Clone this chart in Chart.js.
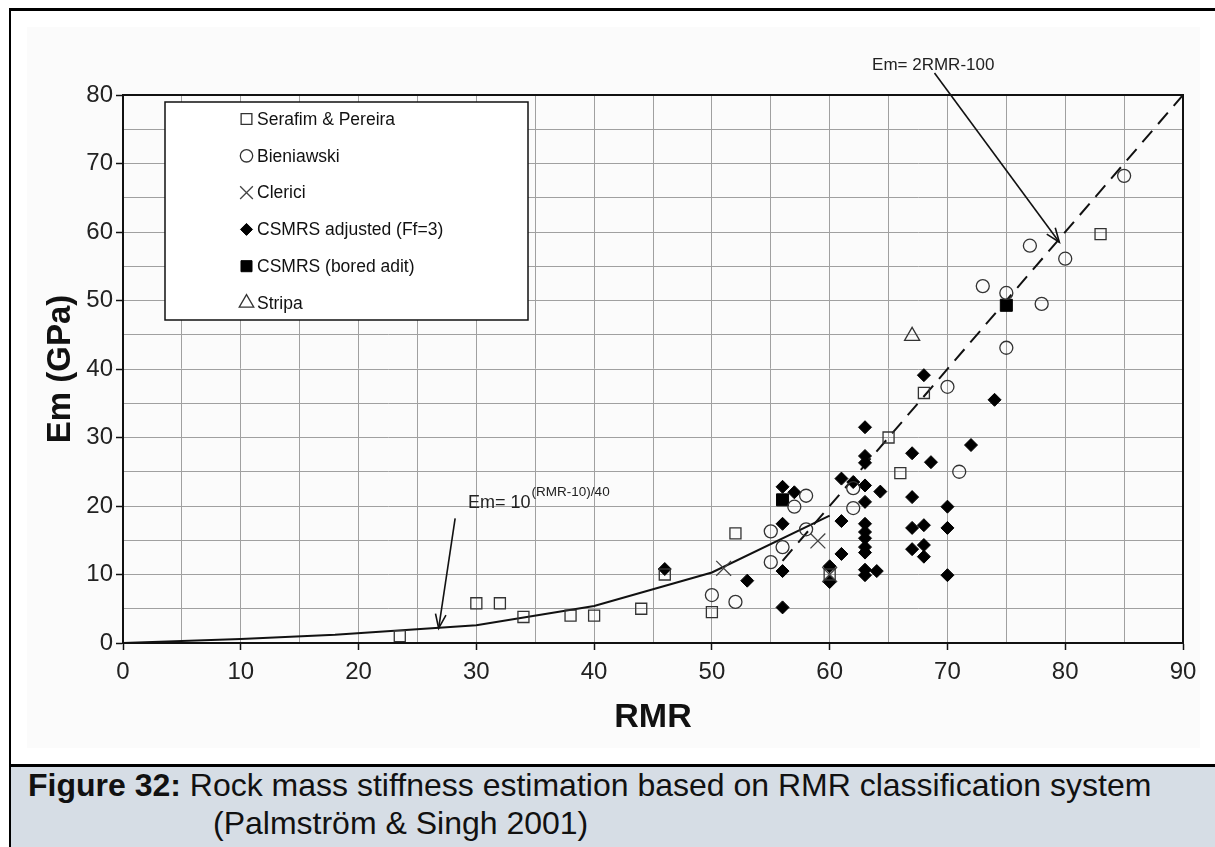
<!DOCTYPE html>
<html>
<head>
<meta charset="utf-8">
<script src="https://cdn.jsdelivr.net/npm/chart.js@4.4.1/dist/chart.umd.min.js"></script>
<style>
  body { margin: 0; width: 1215px; height: 847px; position: relative; overflow: hidden; background: #fff;
         font-family: "Liberation Sans", Arial, sans-serif; }
  #frame { position: absolute; left: 9px; top: 8px; right: 0; height: 753px; border-left: 2px solid #000; border-top: 3px solid #000; }
  #inner { position: absolute; left: 27px; top: 27px; width: 1173px; height: 721px; background: #fbfbfb; }
  #chart { position: absolute; left: 0; top: 0; }
  #caption { position: absolute; left: 9px; top: 764px; right: 0; bottom: 0; background: #d6dde5;
             border-left: 2px solid #000; border-top: 3px solid #000; }
  .cap { position: absolute; font-size: 32px; line-height: 40px; color: #111; white-space: nowrap; }
</style>
</head>
<body>
<div id="frame"></div>
<div id="inner"></div>
<canvas id="chart" width="1215" height="760"></canvas>
<div id="caption"></div>
<div class="cap" style="left:28px; top:765px;"><b>Figure 32:</b> Rock mass stiffness estimation based on RMR classification system</div>
<div class="cap" style="left:213px; top:803px;">(Palmström &amp; Singh 2001)</div>

<script>
// values (x = RMR, y = Em in GPa)
const serafimX = [23.5, 30, 32, 34, 38, 40, 44, 46, 50, 52, 60, 65, 66, 68, 83];
const serafimY = [1.0, 5.8, 5.8, 3.8, 4.0, 4.0, 5.0, 10.0, 4.5, 16.0, 10.0, 30.0, 24.8, 36.5, 59.7];

const bieniawskiX = [50, 52, 55, 55, 56, 57, 58, 58, 62, 62, 70, 71, 73, 75, 75, 77, 78, 80, 85];
const bieniawskiY = [7.0, 6.0, 16.3, 11.8, 14.0, 19.9, 21.5, 16.6, 22.6, 19.7, 37.4, 25.0, 52.1, 51.1, 43.1, 58.0, 49.5, 56.1, 68.2];

const clericiX = [51, 59, 60];
const clericiY = [10.9, 14.9, 10.0];

const csmrsX = [46, 53, 56, 57, 56, 56, 56, 60, 60, 61, 62, 63, 63, 61, 61, 63, 63, 63, 63, 63, 63, 63, 63, 63, 63,
                64, 64.3, 68, 67, 68.6, 67, 67, 68, 68, 67, 68, 70, 70, 70, 72, 74];
const csmrsY = [10.8, 9.1, 22.8, 22.0, 17.4, 10.5, 5.2, 11.2, 8.9, 24.0, 23.5, 23.0, 20.6, 17.8, 13.0, 31.5, 27.3, 26.3,
                17.4, 16.2, 15.3, 14.0, 13.2, 10.7, 9.9, 10.5, 22.1, 39.1, 27.7, 26.4, 21.3, 16.8, 17.2, 14.3, 13.7, 12.6,
                19.9, 16.8, 9.9, 28.9, 35.5];

const boredX = [56, 75];
const boredY = [20.9, 49.3];

const stripaX = [67];
const stripaY = [44.8];

// the two fitted curves as drawn in the figure
const powerCurveX = [0, 10, 18, 30, 40, 50, 60];
const powerCurveY = [0, 0.6, 1.2, 2.6, 5.4, 10.3, 18.6];
const linearX = [56, 90];
const linearY = [12, 80];

const xTicks = [0, 10, 20, 30, 40, 50, 60, 70, 80, 90];
const yTicks = [0, 10, 20, 30, 40, 50, 60, 70, 80];

const FONT = '"Liberation Sans", Arial, sans-serif';

function toPoints(xs, ys) {
    return xs.map((x, i) => ({ x: x, y: ys[i] }));
}

function arrow(ctx, x1, y1, x2, y2) {
    ctx.beginPath();
    ctx.moveTo(x1, y1);
    ctx.lineTo(x2, y2);
    ctx.stroke();
    const a = Math.atan2(y2 - y1, x2 - x1), len = 15, sp = 0.36;
    ctx.beginPath();
    ctx.moveTo(x2 - len * Math.cos(a - sp), y2 - len * Math.sin(a - sp));
    ctx.lineTo(x2, y2);
    ctx.lineTo(x2 - len * Math.cos(a + sp), y2 - len * Math.sin(a + sp));
    ctx.stroke();
}

const extras = {
    id: 'extras',
    afterDraw(chart) {
        const ctx = chart.ctx;
        const area = chart.chartArea;
        const xs = chart.scales.x, ys = chart.scales.y;
        const px = v => xs.getPixelForValue(v), py = v => ys.getPixelForValue(v);

        ctx.save();
        // plot frame
        ctx.strokeStyle = '#111';
        ctx.lineWidth = 2;
        ctx.strokeRect(area.left, area.top, area.right - area.left, area.bottom - area.top);

        // legend box
        const bx = 165, by = 102, bw = 363, bh = 218;
        ctx.fillStyle = '#fff';
        ctx.fillRect(bx, by, bw, bh);
        ctx.lineWidth = 1.5;
        ctx.strokeStyle = '#111';
        ctx.strokeRect(bx, by, bw, bh);
        const items = chart.data.datasets.filter(d => d.inLegend);
        ctx.font = '17.5px ' + FONT;
        ctx.textBaseline = 'middle';
        ctx.textAlign = 'left';
        items.forEach((d, i) => {
            const yy = 119 + i * 36.8;
            ctx.fillStyle = d.backgroundColor;
            ctx.strokeStyle = d.borderColor;
            ctx.lineWidth = d.borderWidth;
            Chart.helpers.drawPoint(ctx, {
                pointStyle: d.pointStyle, radius: d.legendRadius, rotation: 0, borderWidth: d.borderWidth
            }, 246.5, yy);
            ctx.fillStyle = '#111';
            ctx.fillText(d.label, 257, yy + 1);
        });

        // annotations
        ctx.strokeStyle = '#111';
        ctx.fillStyle = '#222';
        ctx.lineWidth = 1.6;
        arrow(ctx, px(68.9), py(83.2), px(79.5), py(58.5));
        ctx.font = '17px ' + FONT;
        ctx.fillText('Em= 2RMR-100', px(63.6), py(84.4));

        arrow(ctx, px(28.2), py(18.2), px(26.8), py(2.15));
        ctx.font = '18px ' + FONT;
        const t1 = 'Em= 10';
        ctx.fillText(t1, px(29.3), py(20.4));
        const w1 = ctx.measureText(t1).width;
        ctx.font = '13.5px ' + FONT;
        ctx.fillText('(RMR-10)/40', px(29.3) + w1 + 1, py(22.0));
        ctx.restore();
    }
};

const hollow = 'rgba(0,0,0,0)';

new Chart(document.getElementById('chart'), {
    type: 'scatter',
    data: {
        datasets: [
            { label: 'Serafim & Pereira', data: toPoints(serafimX, serafimY), inLegend: true,
              pointStyle: 'rect', pointRadius: 7.8, legendRadius: 7.6,
              backgroundColor: hollow, borderColor: '#333', borderWidth: 1.3 },
            { label: 'Bieniawski', data: toPoints(bieniawskiX, bieniawskiY), inLegend: true,
              pointStyle: 'circle', pointRadius: 6.5, legendRadius: 6.2,
              backgroundColor: hollow, borderColor: '#333', borderWidth: 1.3 },
            { label: 'Clerici', data: toPoints(clericiX, clericiY), inLegend: true,
              pointStyle: 'crossRot', pointRadius: 10.5, legendRadius: 9,
              backgroundColor: hollow, borderColor: '#444', borderWidth: 1.3 },
            { label: 'CSMRS adjusted (Ff=3)', data: toPoints(csmrsX, csmrsY), inLegend: true,
              pointStyle: 'rectRot', pointRadius: 6.5, legendRadius: 6,
              backgroundColor: '#000', borderColor: '#000', borderWidth: 1 },
            { label: 'CSMRS (bored adit)', data: toPoints(boredX, boredY), inLegend: true,
              pointStyle: 'rect', pointRadius: 8.5, legendRadius: 7.8,
              backgroundColor: '#000', borderColor: '#000', borderWidth: 1 },
            { label: 'Stripa', data: toPoints(stripaX, stripaY), inLegend: true,
              pointStyle: 'triangle', pointRadius: 8.7, legendRadius: 8.4,
              backgroundColor: hollow, borderColor: '#333', borderWidth: 1.3 },
            { label: 'Em = 10^((RMR-10)/40)', data: toPoints(powerCurveX, powerCurveY), showLine: true,
              pointRadius: 0, borderColor: '#111', borderWidth: 2, tension: 0, fill: false },
            { label: 'Em = 2RMR-100', data: toPoints(linearX, linearY), showLine: true,
              pointRadius: 0, borderColor: '#111', borderWidth: 2, borderDash: [15, 9], tension: 0, fill: false }
        ]
    },
    options: {
        responsive: false,
        animation: false,
        events: [],
        layout: { padding: { top: 95, right: 32, left: 0, bottom: 0 } },
        scales: {
            x: {
                type: 'linear', min: 0, max: 90,
                afterFit: s => { s.height = 117; },
                afterBuildTicks: s => { s.ticks = [...Array(19).keys()].map(i => ({ value: i * 5 })); },
                title: { display: true, text: 'RMR', color: '#111',
                         font: { family: FONT, size: 34, weight: 'bold' }, padding: { top: 0, bottom: 22 } },
                ticks: {
                    autoSkip: false, maxRotation: 0, padding: 8, color: '#222',
                    font: { family: FONT, size: 24 },
                    callback: v => xTicks.includes(v) ? String(v) : ''
                },
                grid: {
                    color: '#a0a0a0', lineWidth: 1, tickLength: 7, tickWidth: 1.5,
                    tickColor: c => (c.tick && xTicks.includes(c.tick.value)) ? '#111' : 'rgba(0,0,0,0)'
                },
                border: { color: '#111', width: 2 }
            },
            y: {
                type: 'linear', min: 0, max: 80,
                afterFit: s => { s.width = 123; },
                afterBuildTicks: s => { s.ticks = [...Array(17).keys()].map(i => ({ value: i * 5 })); },
                title: { display: true, text: 'Em (GPa)', color: '#111',
                         font: { family: FONT, size: 33, weight: 'bold' }, padding: { top: 41, bottom: 0 } },
                ticks: {
                    autoSkip: false, padding: 3, color: '#222',
                    font: { family: FONT, size: 24 },
                    callback: v => yTicks.includes(v) ? String(v) : ''
                },
                grid: {
                    color: '#a0a0a0', lineWidth: 1, tickLength: 7, tickWidth: 1.5,
                    tickColor: c => (c.tick && yTicks.includes(c.tick.value)) ? '#111' : 'rgba(0,0,0,0)'
                },
                border: { color: '#111', width: 2 }
            }
        },
        plugins: {
            legend: { display: false },
            tooltip: { enabled: false }
        }
    },
    plugins: [extras]
});
</script>
</body>
</html>
